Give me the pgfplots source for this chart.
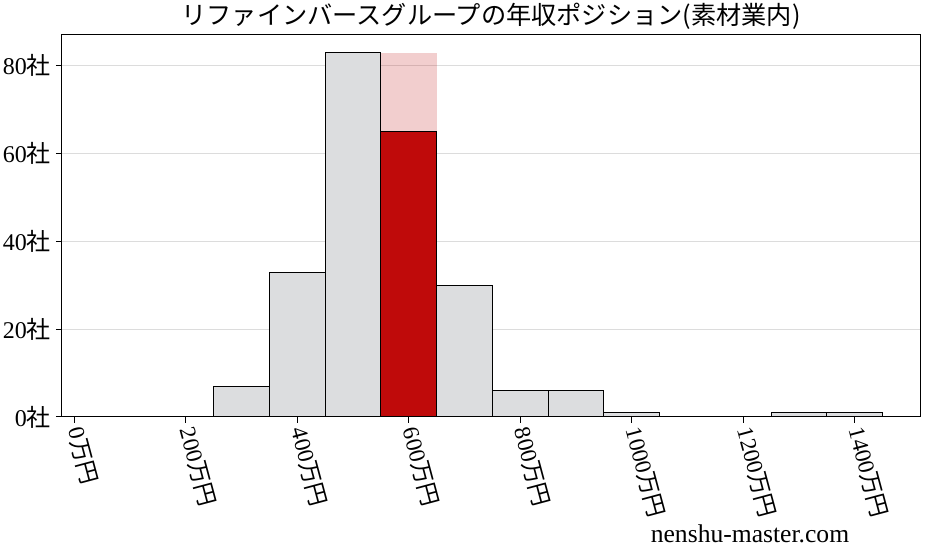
\documentclass[border=0pt]{standalone}
\usepackage{fontspec}
\setmainfont{Liberation Serif}
\newfontfamily\cjk{Noto Sans CJK JP}
\usepackage{pgfplots}
\pgfplotsset{compat=1.18}
\usetikzlibrary{calc}
\definecolor{bargray}{RGB}{220,221,223}
\definecolor{barred}{RGB}{191,10,10}
\definecolor{gridgray}{RGB}{220,220,220}
\begin{document}
\begin{tikzpicture}
\begin{axis}[
    name=ax,
    scale only axis,
    width=429pt, height=191pt,
    xmin=-22, xmax=1517,
    ymin=0, ymax=87,
    ybar, bar width=100,
    axis line style={black, line width=0.5pt},
    tick style={black, line width=0.5pt},
    tick align=outside,
    major tick length=3pt,
    xtick pos=left, ytick pos=left,
    xtick={0,200,...,1400},
    ytick={0,20,40,60,80},
    ymajorgrids,
    grid style={gridgray, line width=0.5pt},
    /pgf/number format/assume math mode=true,
    /pgf/number format/1000 sep={},
    xticklabel={\pgfmathprintnumber{\tick}{\cjk 万円}},
    yticklabel={\pgfmathprintnumber{\tick}{\cjk 社}},
    x tick label style={font=\fontsize{11.5}{12}\selectfont, rotate=-75, anchor=west, xshift=-1pt},
    y tick label style={font=\fontsize{12}{13}\selectfont, xshift=1pt},
    title={\cjk リファインバースグループの年収ポジション(素材業内)},
    title style={font=\fontsize{12.6}{14}\selectfont, at={(0.5,1)}, anchor=south, yshift=-7pt},
]
\addplot[bar shift=0pt, draw=none, fill=barred, fill opacity=0.2] coordinates {(600,83)};
\addplot[bar shift=0pt, draw=black, line width=0.5pt, fill=bargray] coordinates {
    (300,7) (400,33) (500,83) (700,30) (800,6) (900,6) (1000,1) (1300,1) (1400,1)
};
\addplot[bar shift=0pt, draw=black, line width=0.5pt, fill=barred] coordinates {(600,65)};
\end{axis}
\node[font=\fontsize{12.8}{14}\selectfont, anchor=base] at ($(ax.south west)+(344pt,-63pt)$) {nenshu-master.com};
\pgfresetboundingbox
\path ($(ax.south west)+(-31pt,-70pt)$) rectangle ($(ax.north east)+(3.5pt,17.5pt)$);
\end{tikzpicture}
\end{document}
